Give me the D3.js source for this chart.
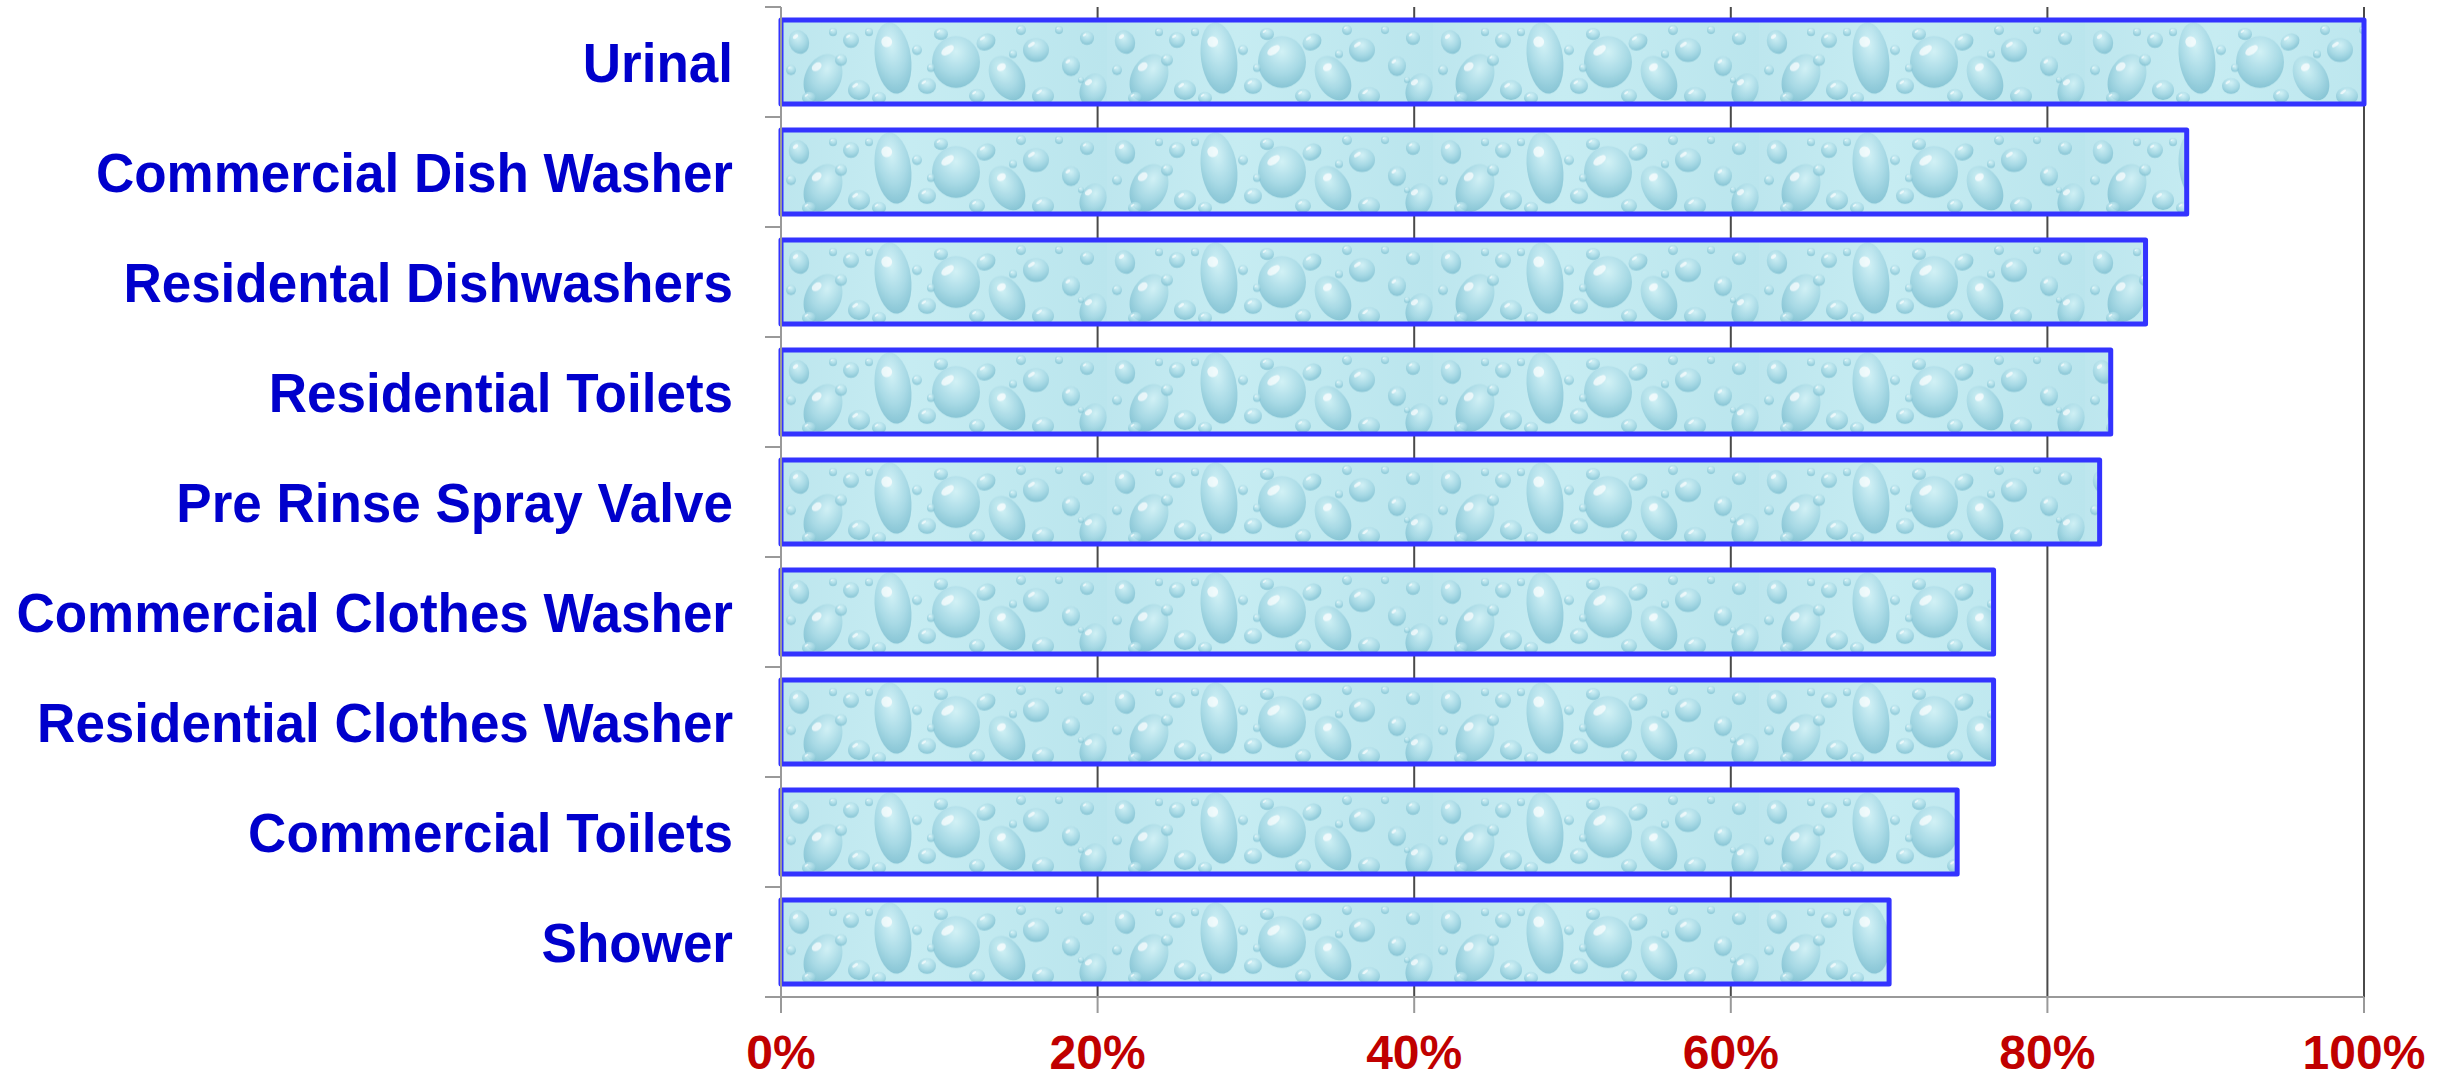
<!DOCTYPE html>
<html>
<head>
<meta charset="utf-8">
<script src="https://cdn.jsdelivr.net/npm/d3@7"></script>
<style>
  body { margin: 0; background: #fff; }
  svg { display: block; }
  text { font-family: "Liberation Sans", Arial, sans-serif; font-weight: bold; }
</style>
</head>
<body>
<svg id="chart"></svg>
<script>
// data (percent)
const categories = [
  "Urinal",
  "Commercial Dish Washer",
  "Residental Dishwashers",
  "Residential Toilets",
  "Pre Rinse Spray Valve",
  "Commercial Clothes Washer",
  "Residential Clothes Washer",
  "Commercial Toilets",
  "Shower"
];
const values = [100, 88.8, 86.2, 84.0, 83.3, 76.6, 76.6, 74.3, 70.0];
const tickValues = [0, 20, 40, 60, 80, 100];

// water drops for the bar texture tile: [cx, cy, rx, ry, angle]
const drops = [
  [18, 22, 10, 12, -20], [42, 58, 18, 25, 25], [70, 20, 8, 8, 0], [78, 70, 11, 10, 0],
  [112, 38, 18, 36, -8], [146, 66, 9, 8, 0], [175, 42, 24, 26, 0], [160, 14, 7, 6, 0],
  [205, 22, 10, 8, -30], [226, 58, 16, 24, -30], [255, 30, 13, 12, 0], [262, 76, 11, 9, 0],
  [290, 46, 9, 10, 0], [306, 18, 7, 7, 0], [312, 70, 13, 17, 20], [136, 30, 5, 5, 0],
  [60, 40, 6, 6, 0], [196, 76, 8, 7, 0], [240, 10, 5, 5, 0], [98, 78, 7, 6, 0],
  [28, 78, 7, 6, 0], [278, 10, 4, 4, 0], [88, 12, 4, 4, 0], [150, 48, 4, 4, 0],
  [52, 12, 4, 4, 0], [232, 34, 4, 4, 0], [300, 60, 3, 3, 0], [10, 50, 5, 5, 0]
];

const width = 2451, height = 1080;
const x0 = 781, x1 = 2364, yTop = 7, yBottom = 997;

const svg = d3.select("#chart").attr("width", width).attr("height", height);

const x = d3.scaleLinear().domain([0, 100]).range([x0, x1]);
const y = d3.scaleBand().domain(categories).range([yTop, yBottom])
  .paddingInner(0.236).paddingOuter(0.118);

const defs = svg.append("defs");

const grad = defs.append("radialGradient").attr("id", "drop").attr("cx", "50%").attr("cy", "30%").attr("r", "70%");
grad.append("stop").attr("offset", "0%").attr("stop-color", "#d6f3f7");
grad.append("stop").attr("offset", "60%").attr("stop-color", "#9fd4e1");
grad.append("stop").attr("offset", "100%").attr("stop-color", "#74b8cb");

const bg = defs.append("linearGradient").attr("id", "bg").attr("x1", "0").attr("x2", "1").attr("y1", "0").attr("y2", "0");
bg.append("stop").attr("offset", "0%").attr("stop-color", "#bde6ee");
bg.append("stop").attr("offset", "40%").attr("stop-color", "#c6ecf2");
bg.append("stop").attr("offset", "100%").attr("stop-color", "#bae5ed");

defs.append("filter").attr("id", "soft")
  .append("feGaussianBlur").attr("stdDeviation", 0.6);

const tileW = 326, tileH = y.bandwidth();
const pat = defs.append("pattern").attr("id", "water")
  .attr("patternUnits", "userSpaceOnUse")
  .attr("width", tileW).attr("height", tileH);
pat.append("rect").attr("width", tileW).attr("height", tileH).attr("fill", "url(#bg)");
const tile = pat.append("g").attr("filter", "url(#soft)");
tile.selectAll("ellipse.d").data(drops).enter().append("ellipse")
  .attr("class", "d")
  .attr("transform", d => `translate(${d[0]},${d[1]}) rotate(${d[4]})`)
  .attr("rx", d => d[2]).attr("ry", d => d[3])
  .attr("fill", "url(#drop)").attr("opacity", 0.75);
tile.selectAll("ellipse.h").data(drops).enter().append("ellipse")
  .attr("class", "h")
  .attr("transform", d => `translate(${d[0] - d[2] * 0.35},${d[1] - d[3] * 0.45}) rotate(-35)`)
  .attr("rx", d => d[2] * 0.3).attr("ry", d => d[3] * 0.15)
  .attr("fill", "#ffffff").attr("opacity", 0.7);

// vertical gridlines
svg.append("g").selectAll("line")
  .data(tickValues.slice(1)).enter().append("line")
  .attr("x1", d => x(d)).attr("x2", d => x(d))
  .attr("y1", yTop).attr("y2", yBottom)
  .attr("stroke", "#4a4a4a").attr("stroke-width", 2);

// bars
const bars = svg.append("g").selectAll("g")
  .data(categories).enter().append("g")
  .attr("transform", d => `translate(${x0},${y(d)})`);

bars.append("rect")
  .attr("x", 0).attr("y", 0)
  .attr("width", (d, i) => x(values[i]) - x0)
  .attr("height", y.bandwidth())
  .attr("fill", "url(#water)")
  .attr("stroke", "#3333ff").attr("stroke-width", 5)
  .attr("stroke-linejoin", "round");

// axes
const axisColor = "#999999";
svg.append("line").attr("x1", x0).attr("x2", x0).attr("y1", yTop).attr("y2", yBottom)
  .attr("stroke", axisColor).attr("stroke-width", 2);
svg.append("line").attr("x1", x0).attr("x2", x1).attr("y1", yBottom).attr("y2", yBottom)
  .attr("stroke", axisColor).attr("stroke-width", 2);

// category boundary ticks on the left
const bounds = categories.map(c => y(c) - y.step() * y.paddingInner() / 2).concat([yBottom]);
svg.append("g").selectAll("line").data(bounds).enter().append("line")
  .attr("x1", x0 - 16).attr("x2", x0).attr("y1", d => d).attr("y2", d => d)
  .attr("stroke", axisColor).attr("stroke-width", 2);

// value ticks on the bottom
svg.append("g").selectAll("line").data(tickValues).enter().append("line")
  .attr("x1", d => x(d)).attr("x2", d => x(d)).attr("y1", yBottom).attr("y2", yBottom + 16)
  .attr("stroke", axisColor).attr("stroke-width", 2);

// category labels
svg.append("g").selectAll("text").data(categories).enter().append("text")
  .attr("transform", d => `translate(${x0 - 48},${y(d) + y.bandwidth() / 2}) scale(1,1.05)`)
  .attr("y", 19)
  .attr("text-anchor", "end")
  .attr("font-size", 53)
  .attr("fill", "#0000cc")
  .text(d => d);

// tick labels
svg.append("g").selectAll("text").data(tickValues).enter().append("text")
  .attr("x", d => x(d))
  .attr("y", 1069)
  .attr("text-anchor", "middle")
  .attr("font-size", 48)
  .attr("fill", "#c00000")
  .text(d => d + "%");
</script>
</body>
</html>
